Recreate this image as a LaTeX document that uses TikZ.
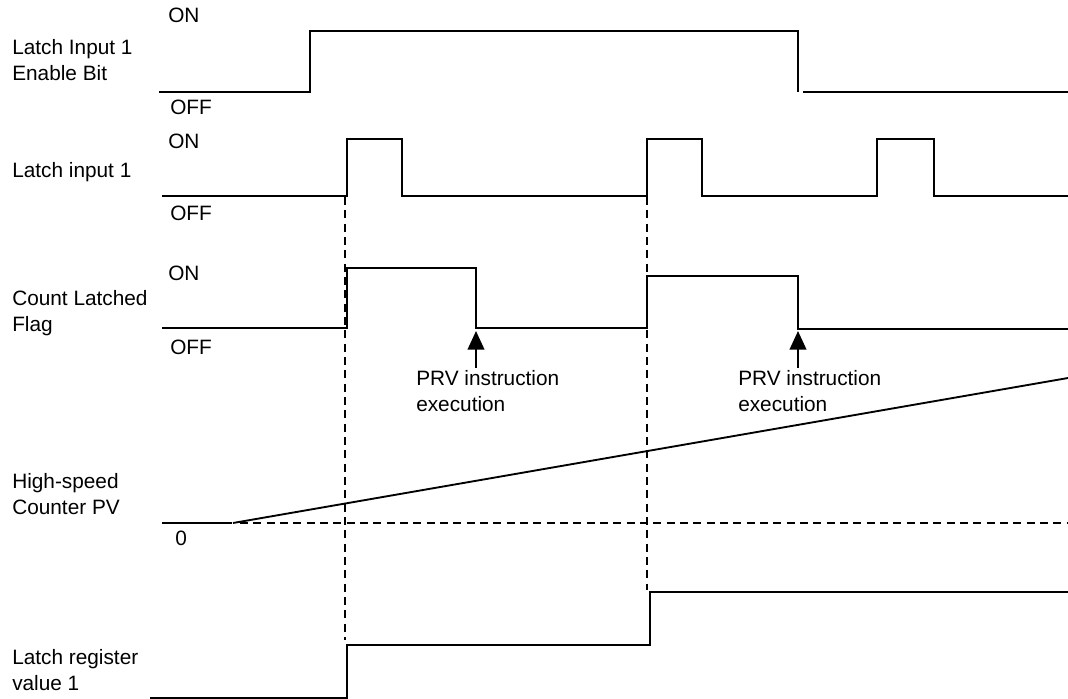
\documentclass[tikz,border=0pt]{standalone}
\usepackage{fontspec}
\setmainfont{Liberation Sans}
\usetikzlibrary{arrows.meta}
\begin{document}
\begin{tikzpicture}[x=0.75pt,y=-0.75pt,
        lbl/.style={anchor=base west,inner sep=0pt,align=left,font=\fontsize{15.6}{19.5}\selectfont},
        wave/.style={line width=1.4pt},
        guide/.style={line width=1.2pt,dash pattern=on 6pt off 4pt},
        prv/.style={line width=1.5pt,-{Triangle[length=14pt,width=12.5pt]}}]
    \useasboundingbox (0,0) rectangle (1068,699);
    % signal names (anchored at the last line)
    \node[lbl] (EN) at (12,81) {Latch Input 1\\Enable Bit};
    \node[lbl] (LI) at (12,177) {Latch input 1};
    \node[lbl] (CL) at (12,331) {Count Latched\\Flag};
    \node[lbl] (PV) at (12,514) {High-speed\\Counter PV};
    \node[lbl] (LR) at (12,690) {Latch register\\value 1};
    % levels
    \node[lbl] (ENon) at (168,23) {ON};
    \node[lbl] (ENoff) at (170,114) {OFF};
    \node[lbl] (LIon) at (168,148) {ON};
    \node[lbl] (LIoff) at (170,220) {OFF};
    \node[lbl] (CLon) at (168,280) {ON};
    \node[lbl] (CLoff) at (170,354) {OFF};
    \node[lbl] (PVzero) at (175,545) {0};
    % waveforms
    \draw[wave] (159,92) -| (310,31) -| (798,92);
    \draw[wave] (803,92) -- (1068,92);
    \draw[wave] (162,196) -| (347,139) -| (402,196) -| (647,139) -| (702,196) -| (877,139) -| (934,196) -- (1068,196);
    \draw[wave] (162,328) -| (347,268) -| (476,328) -| (647,276) -| (798,329) -- (1068,329);
    \draw[wave] (162,523) -- (232,523);
    \draw[wave] (233,523) -- (1068,378);
    \draw[guide] (240,523) -- (1068,523);
    \draw[wave] (150,698) -| (347,645) -| (650,592) -- (1068,592);
    % latch instants
    \draw[guide] (345,197) -- (345,640);
    \draw[guide] (647,197) -- (647,590);
    % PRV execution
    \node[lbl] (P1) at (416,411) {PRV instruction\\execution};
    \node[lbl] (P2) at (738,411) {PRV instruction\\execution};
    \coordinate (F1) at (476,331);
    \coordinate (F2) at (798,331);
    \draw[prv] ([yshift=1.5pt]P1.north -| F1) -- (F1);
    \draw[prv] ([yshift=1.5pt]P2.north -| F2) -- (F2);
\end{tikzpicture}
\end{document}
